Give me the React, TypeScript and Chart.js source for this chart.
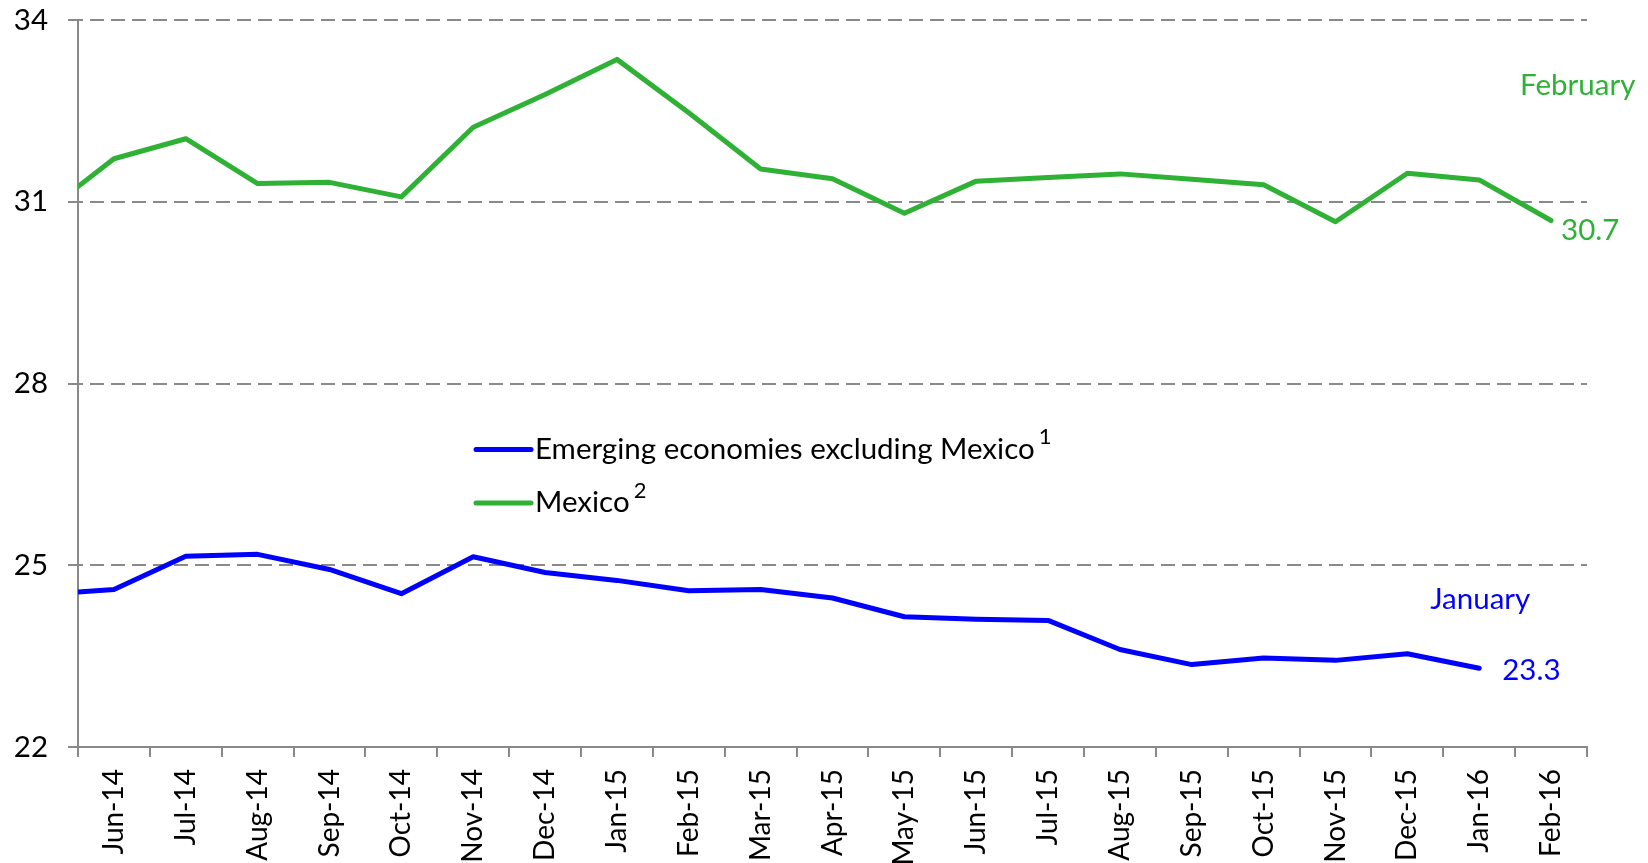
import React, { useEffect, useRef } from 'react';
import { Chart, registerables } from 'chart.js';

Chart.register(...registerables);

// Month labels on the category axis
const categories = [
  'Jun-14', 'Jul-14', 'Aug-14', 'Sep-14', 'Oct-14', 'Nov-14', 'Dec-14',
  'Jan-15', 'Feb-15', 'Mar-15', 'Apr-15', 'May-15', 'Jun-15', 'Jul-15',
  'Aug-15', 'Sep-15', 'Oct-15', 'Nov-15', 'Dec-15', 'Jan-16', 'Feb-16',
];

// First value of each series is the starting observation (end of May-14),
// followed by one value per month starting at Jun-14.
const emergingValues = [
  24.56, 24.60, 25.15, 25.18, 24.93, 24.53, 25.14, 24.88, 24.75, 24.58, 24.60,
  24.46, 24.15, 24.11, 24.09, 23.61, 23.36, 23.47, 23.43, 23.54, 23.30,
];
const mexicoValues = [
  31.25, 31.71, 32.04, 31.30, 31.32, 31.08, 32.23, 32.77, 33.35, 32.47, 31.54,
  31.38, 30.81, 31.34, 31.40, 31.46, 31.37, 31.28, 30.67, 31.47, 31.36, 30.69,
];

const yTicks = [22, 25, 28, 31, 34];
const seriesNames = ['Emerging economies excluding Mexico', 'Mexico'];
const seriesNotes = ['1', '2'];
const periodLabels = ['January', 'February'];

const BLUE = '#0000FF';
const GREEN = '#2EB135';
const GRAY = '#898989';
const FONT = 'Lato';
const FONT_SIZE = 29.5;

const toPoints = (values: number[]) =>
  values.map((v, i) => ({ x: i === 0 ? -0.5 : i - 1, y: v }));

const overlayPlugin = {
  id: 'overlay',
  afterDatasetsDraw(chart: any) {
    const ctx = chart.ctx as CanvasRenderingContext2D;
    const area = chart.chartArea;
    ctx.save();
    ctx.textAlign = 'left';
    ctx.textBaseline = 'alphabetic';

    // end-of-series labels
    const metaE = chart.getDatasetMeta(0);
    const metaM = chart.getDatasetMeta(1);
    const pE = metaE.data[metaE.data.length - 1];
    const pM = metaM.data[metaM.data.length - 1];
    ctx.font = `${FONT_SIZE}px ${FONT}`;
    ctx.fillStyle = BLUE;
    ctx.fillText(emergingValues[emergingValues.length - 1].toFixed(1), pE.x + 23, pE.y + 11.5);
    ctx.fillText(periodLabels[0], pE.x - 49, pE.y - 59.5);
    ctx.fillStyle = GREEN;
    ctx.fillText(mexicoValues[mexicoValues.length - 1].toFixed(1), pM.x + 10, pM.y + 19);
    ctx.fillText(periodLabels[1], pM.x - 31, pM.y - 126);

    // legend
    const colors = [BLUE, GREEN];
    const rowY = [area.top + 429.5, area.top + 483];
    seriesNames.forEach((name, i) => {
      const y = rowY[i];
      ctx.strokeStyle = colors[i];
      ctx.lineWidth = 5;
      ctx.lineCap = 'round';
      ctx.beginPath();
      ctx.moveTo(area.left + 398, y);
      ctx.lineTo(area.left + 453, y);
      ctx.stroke();
      ctx.fillStyle = '#000';
      ctx.font = `${FONT_SIZE}px ${FONT}`;
      const tx = area.left + 457;
      ctx.fillText(name, tx, y + 9.4);
      const w = ctx.measureText(name).width;
      ctx.font = `22px ${FONT}`;
      ctx.fillText(seriesNotes[i], tx + w + 4, y + 9.4 - 14.7);
    });
    ctx.restore();
  },
};

export default function App() {
  const canvasRef = useRef<HTMLCanvasElement | null>(null);

  useEffect(() => {
    document.body.style.margin = '0';
    const canvas = canvasRef.current;
    if (!canvas) return;
    const chart = new Chart(canvas, {
      type: 'line',
      data: {
        labels: categories,
        datasets: [
          {
            label: seriesNames[0],
            data: toPoints(emergingValues),
            xAxisID: 'xd',
            yAxisID: 'y',
            borderColor: BLUE,
            backgroundColor: BLUE,
            borderWidth: 5,
            pointRadius: 0,
            tension: 0,
            borderJoinStyle: 'round',
            borderCapStyle: 'round',
          },
          {
            label: seriesNames[1],
            data: toPoints(mexicoValues),
            xAxisID: 'xd',
            yAxisID: 'y',
            borderColor: GREEN,
            backgroundColor: GREEN,
            borderWidth: 5,
            pointRadius: 0,
            tension: 0,
            borderJoinStyle: 'round',
            borderCapStyle: 'round',
          },
        ],
      },
      options: {
        responsive: false,
        animation: false,
        devicePixelRatio: 1,
        layout: { padding: { left: 0, right: 61, top: 20, bottom: 0 } },
        plugins: {
          legend: { display: false },
          tooltip: { enabled: false },
        },
        scales: {
          x: {
            type: 'category',
            offset: true,
            grid: {
              offset: true,
              drawOnChartArea: false,
              drawTicks: true,
              tickLength: 10,
              color: GRAY,
              lineWidth: 2,
            },
            border: { display: true, color: GRAY, width: 2 },
            ticks: {
              autoSkip: false,
              minRotation: 90,
              maxRotation: 90,
              padding: 12,
              color: '#000',
              font: { family: FONT, size: 28 },
            },
            afterFit: (s: any) => {
              s.height = 116;
            },
          },
          xd: {
            type: 'linear',
            display: false,
            min: -0.5,
            max: categories.length - 0.5,
          },
          y: {
            min: yTicks[0],
            max: yTicks[yTicks.length - 1],
            afterBuildTicks: (s: any) => {
              s.ticks = yTicks.map((v) => ({ value: v }));
            },
            ticks: {
              padding: 20,
              color: '#000',
              font: { family: FONT, size: FONT_SIZE },
            },
            grid: {
              color: GRAY,
              lineWidth: 2,
              tickLength: 10,
              tickBorderDash: [],
            },
            border: { display: true, color: GRAY, width: 2, dash: [14, 7], dashOffset: 10 },
            afterFit: (s: any) => {
              s.width = 78;
              s.paddingTop = 0;
              s.paddingBottom = 0;
            },
          },
        },
      } as any,
      plugins: [overlayPlugin],
    });
    return () => chart.destroy();
  }, []);

  return (
    <div style={{ position: 'absolute', left: 0, top: 0, width: 1648, height: 863 }}>
      <canvas ref={canvasRef} width={1648} height={863} style={{ display: 'block' }} />
    </div>
  );
}
